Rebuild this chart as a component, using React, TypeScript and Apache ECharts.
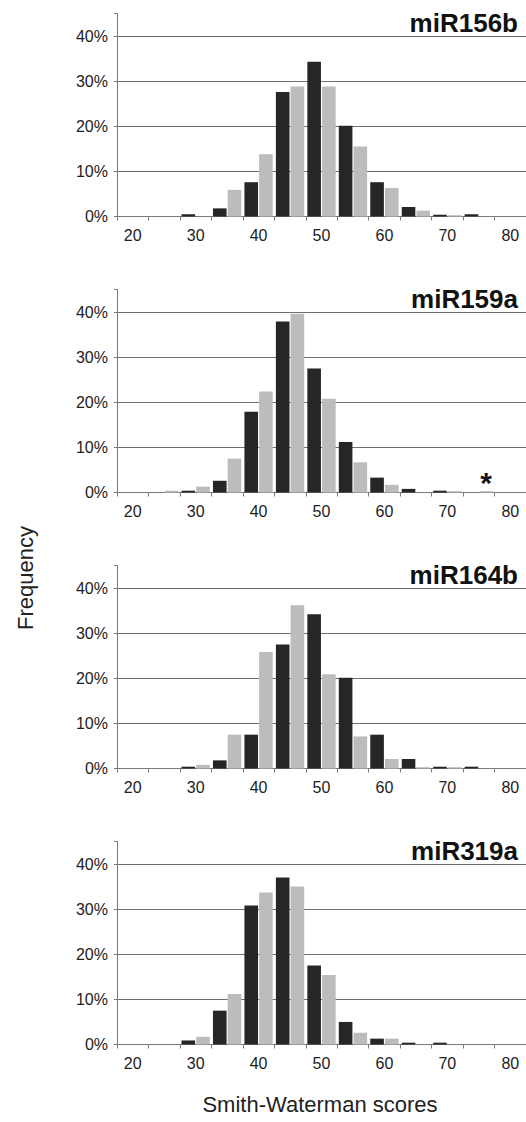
import React, { useEffect, useRef } from "react";
import * as echarts from "echarts";

const categories = ["20", "25", "30", "35", "40", "45", "50", "55", "60", "65", "70", "75", "80"];
const panelTitles = ["miR156b", "miR159a", "miR164b", "miR319a"];
const yTicks = [0, 10, 20, 30, 40];

const darkSeries = [
  [0, 0, 0.5, 1.8, 7.6, 27.6, 34.3, 20.1, 7.6, 2.1, 0.4, 0.5, 0],
  [0, 0, 0.4, 2.6, 17.9, 37.9, 27.5, 11.2, 3.3, 0.8, 0.4, 0, 0],
  [0, 0, 0.4, 1.8, 7.5, 27.5, 34.2, 20.1, 7.5, 2.1, 0.4, 0.4, 0],
  [0, 0, 0.9, 7.5, 30.8, 37.0, 17.5, 5.0, 1.3, 0.4, 0.4, 0, 0],
];
const lightSeries = [
  [0, 0, 0, 5.9, 13.8, 28.8, 28.8, 15.5, 6.3, 1.3, 0.3, 0, 0],
  [0, 0.4, 1.3, 7.5, 22.4, 39.6, 20.8, 6.7, 1.7, 0, 0.3, 0.3, 0],
  [0, 0, 0.8, 7.5, 25.8, 36.2, 20.9, 7.1, 2.1, 0.3, 0.3, 0, 0],
  [0, 0, 1.7, 11.2, 33.7, 35.0, 15.4, 2.6, 1.3, 0, 0, 0, 0],
];
// asterisk annotation: panel index, category index
const starPanel = 1;
const starCategory = 11;

const FONT = "'Liberation Sans', Arial, sans-serif";
const GRID_COLOR = "#6f6f6f";
const AXIS_COLOR = "#7a7a7a";
const DARK = "#262626";
const LIGHT = "#bcbcbc";

export default function App() {
  const ref = useRef<HTMLDivElement>(null);
  useEffect(() => {
    if (!ref.current) return;
    const chart = echarts.init(ref.current, undefined, { renderer: "svg" });
    const step = 276;
    const grids: any[] = [];
    const xAxes: any[] = [];
    const yAxes: any[] = [];
    const series: any[] = [];
    const titles: any[] = [];
    const yMax = 45;
    const splitColors = yTicks.map(() => GRID_COLOR).concat(["rgba(0,0,0,0)"]);
    for (let k = 0; k < 4; k++) {
      grids.push({ left: 117, right: 0, top: 13.5 + step * k, height: 203 });
      titles.push({
        text: panelTitles[k],
        right: 3,
        top: 5 + step * k,
        textStyle: { fontFamily: FONT, fontSize: 26, fontWeight: "bold", color: "#111" },
      });
      xAxes.push({
        type: "category",
        gridIndex: k,
        data: categories,
        axisLine: { show: true, lineStyle: { color: AXIS_COLOR, width: 1 } },
        axisTick: { show: true, interval: 0, length: 4, lineStyle: { color: AXIS_COLOR } },
        axisLabel: { interval: 1, margin: 11, fontFamily: FONT, fontSize: 16, color: "#222" },
        splitLine: { show: false },
      });
      yAxes.push({
        type: "value",
        gridIndex: k,
        min: 0,
        max: yMax,
        interval: 10,
        axisLine: { show: true, lineStyle: { color: AXIS_COLOR, width: 1 } },
        axisTick: { show: true, length: 3, lineStyle: { color: AXIS_COLOR } },
        axisLabel: {
          margin: 9,
          fontFamily: FONT,
          fontSize: 16,
          color: "#222",
          formatter: (v: number) => (yTicks.indexOf(v) >= 0 ? v + "%" : ""),
        },
        splitLine: { show: true, lineStyle: { color: splitColors, width: 1 } },
      });
      series.push({
        type: "bar",
        xAxisIndex: k,
        yAxisIndex: k,
        data: darkSeries[k],
        barGap: "8%",
        barCategoryGap: "10%",
        itemStyle: { color: DARK },
      });
      series.push({
        type: "bar",
        xAxisIndex: k,
        yAxisIndex: k,
        data: lightSeries[k].map((v, i) =>
          k === starPanel && i === starCategory
            ? {
                value: v,
                label: {
                  show: true,
                  position: "top",
                  distance: -6,
                  formatter: "*",
                  fontFamily: FONT,
                  fontSize: 30,
                  fontWeight: "bold",
                  color: "#111",
                },
              }
            : v
        ),
        barGap: "8%",
        barCategoryGap: "10%",
        itemStyle: { color: LIGHT },
      });
    }
    chart.setOption({
      animation: false,
      backgroundColor: "#ffffff",
      title: titles,
      grid: grids,
      xAxis: xAxes,
      yAxis: yAxes,
      series,
      graphic: [
        {
          type: "text",
          x: 25,
          y: 578,
          rotation: Math.PI / 2,
          style: {
            text: "Frequency",
            fontFamily: FONT,
            fontSize: 22,
            fill: "#222",
            textAlign: "center",
            textVerticalAlign: "middle",
          },
        },
        {
          type: "text",
          x: 320,
          y: 1104,
          style: {
            text: "Smith-Waterman scores",
            fontFamily: FONT,
            fontSize: 22,
            fill: "#222",
            textAlign: "center",
            textVerticalAlign: "middle",
          },
        },
      ],
    });
    return () => chart.dispose();
  }, []);
  return (
    <div
      ref={ref}
      style={{ position: "absolute", left: 0, top: 0, width: 526, height: 1122 }}
    />
  );
}
